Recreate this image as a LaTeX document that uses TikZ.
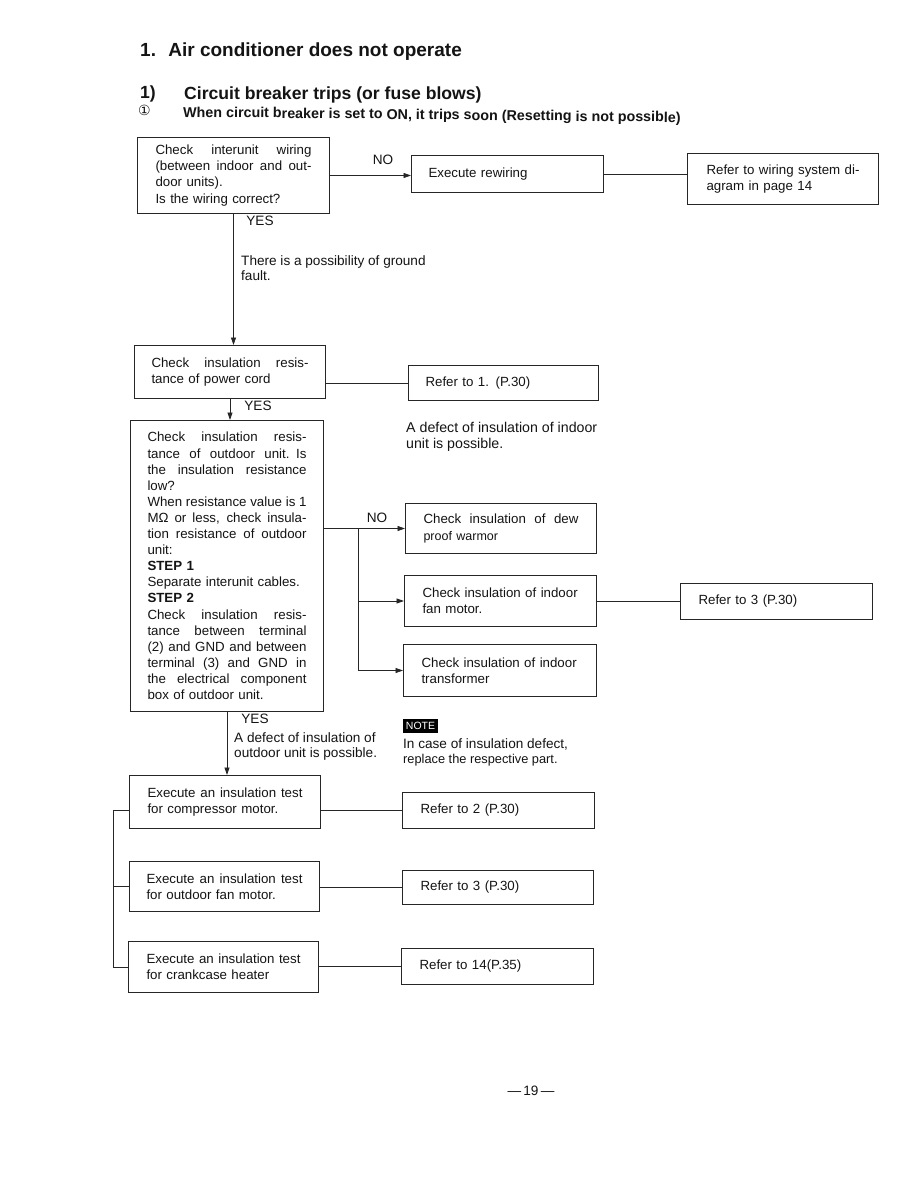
\documentclass[tikz,border=0pt]{standalone}
\usepackage{fontspec}
\setmainfont{Liberation Sans}
\newfontfamily\dejavu{DejaVu Sans}
\usetikzlibrary{arrows.meta}
\newcommand\myjw{150pt}
\newcommand\jl[1]{\leavevmode\hbox to \myjw{\spaceskip=0.28em plus 1fil\relax #1}}
\begin{document}
\begin{tikzpicture}[x=1pt,y=-1pt,
  every node/.style={text=black!92},
  box/.style={draw=black!85, line width=1pt, anchor=north west, inner ysep=0pt, align=left, font=\fontsize{13.3}{16.1}\selectfont},
  tw/.style={text width=#1, execute at begin node={\renewcommand\myjw{#1}}},
  lbl/.style={inner sep=0pt, font=\fontsize{13.6}{15.5}\selectfont, align=left},
  head/.style={anchor=base west, inner sep=0pt, font=\bfseries\fontsize{17.6}{18}\selectfont},
  conn/.style={draw=black!85, line width=0.85pt},
  arr/.style={conn, -{Triangle[length=7.5pt,width=5pt]}},
]
\fill[white] (0,0) rectangle (918,1188);
\useasboundingbox (0,0) rectangle (918,1188);

% headings
\node[anchor=base west, inner sep=0pt, font=\bfseries\fontsize{19}{20}\selectfont] (title) at (140,57) {1.~ Air conditioner does not operate};
\node[head] (s1n) at (140,99) {1)};
\node[head] (s1t) at (184,100) {Circuit breaker trips (or fuse blows)};
\node[anchor=base west, inner sep=0pt, font=\dejavu\fontsize{14}{14}\selectfont] (c1) at (138,116) {①};
\node[anchor=base west, inner sep=0pt, font=\bfseries\fontsize{14.3}{15}\selectfont, rotate=-0.6] (s2) at (183,117) {When circuit breaker is set to ON, it trips soon (Resetting is not possible)};

% boxes
\node[box, minimum width=192pt, minimum height=76pt, inner xsep=18pt, tw=156pt] (A) at (137,137)
  {\jl{Check interunit wiring}\\ \jl{(between indoor and out-}\\ door units).\\ Is the wiring correct?};
\node[box, minimum width=192pt, minimum height=37pt, inner xsep=17pt, tw=158pt] (rew) at (411,155) {Execute rewiring};
\node[box, minimum width=191pt, minimum height=51pt, inner xsep=19pt, tw=153pt] (wir) at (687,153)
  {Refer to wiring system di-\\agram in page 14};

\node[box, minimum width=191pt, minimum height=53pt, inner xsep=17pt, tw=157pt] (B) at (134,345)
  {\jl{Check insulation resis-}\\ tance of power cord};
\node[box, minimum width=190pt, minimum height=35pt, inner xsep=17pt, tw=156pt] (r1) at (408,365) {Refer to 1. (P.30)};

\node[box, minimum width=193pt, minimum height=291pt, inner xsep=17pt, tw=159pt] (C) at (130,420)
  {\jl{Check insulation resis-}\\
   \jl{tance of outdoor unit. Is}\\
   \jl{the insulation resistance}\\
   low?\\
   \jl{When resistance value is 1}\\
   \jl{MΩ or less, check insula-}\\
   \jl{tion resistance of outdoor}\\
   unit:\\
   \textbf{STEP 1}\\
   Separate interunit cables.\\
   \textbf{STEP 2}\\
   \jl{Check insulation resis-}\\
   \jl{tance between terminal}\\
   \jl{(2) and GND and between}\\
   \jl{terminal (3) and GND in}\\
   \jl{the electrical component}\\
   box of outdoor unit.};

\node[box, minimum width=191pt, minimum height=50pt, inner xsep=18pt, tw=155pt] (dew) at (405,503)
  {\jl{Check insulation of dew}\\ {\fontsize{12.5}{14}\selectfont proof warmor}};
\node[box, minimum width=192pt, minimum height=51pt, inner xsep=18pt, tw=156pt] (fan) at (404,575)
  {Check insulation of indoor\\ fan motor.};
\node[box, minimum width=192pt, minimum height=36pt, inner xsep=18pt, tw=156pt] (r3a) at (680,583) {Refer to 3 (P.30)};
\node[box, minimum width=193pt, minimum height=52pt, inner xsep=18pt, tw=157pt] (tr) at (403,644)
  {Check insulation of indoor\\ transformer};

\node[box, minimum width=191pt, minimum height=53pt, inner xsep=18pt, tw=155pt] (D) at (129,775)
  {\jl{Execute an insulation test}\\ for compressor motor.};
\node[box, minimum width=192pt, minimum height=36pt, inner xsep=18pt, tw=156pt] (r2) at (402,792) {Refer to 2 (P.30)};
\node[box, minimum width=190pt, minimum height=50pt, inner xsep=17pt, tw=156pt] (E) at (129,861)
  {\jl{Execute an insulation test}\\ for outdoor fan motor.};
\node[box, minimum width=191pt, minimum height=34pt, inner xsep=18pt, tw=155pt] (r3b) at (402,870) {Refer to 3 (P.30)};
\node[box, minimum width=190pt, minimum height=51pt, inner xsep=18pt, tw=154pt] (F) at (128,941)
  {\jl{Execute an insulation test}\\ for crankcase heater};
\node[box, minimum width=192pt, minimum height=36pt, inner xsep=18pt, tw=156pt] (r14) at (401,948) {Refer to 14(P.35)};

% free labels
\node[lbl] (no1) at (383,160) {NO};
\node[lbl] (yes1) at (260,221) {YES};
\node[lbl, anchor=north west] (gf) at (241,255) {There is a possibility of ground\\fault.};
\node[lbl] (yes2) at (258,406) {YES};
\node[lbl, anchor=north west, font=\fontsize{14.2}{16}\selectfont] (ind) at (406,422) {A defect of insulation of indoor\\unit is possible.};
\node[lbl] (no2) at (377,518) {NO};
\node[lbl] (yes3) at (255,719) {YES};
\node[lbl, anchor=north west] (outd) at (234,732) {A defect of insulation of\\outdoor unit is possible.};
\node[fill=black, text=white, inner sep=0pt, minimum width=35pt, minimum height=14pt, font=\fontsize{10.5}{11}\selectfont] (note) at (420.5,725.5) {NOTE};
\node[lbl, anchor=north west] (nt) at (403,738) {In case of insulation defect,\\{\fontsize{12.8}{14}\selectfont replace the respective part.}};
\node[lbl] (pg) at (531,1091) {—\,19\,—};

% connectors
\draw[arr] (A.east) -- (A.east -| rew.west);
\draw[conn] (rew.east) -- (rew.east -| wir.west);
\draw[arr] (A.south) -- (A.south |- B.north);
\draw[conn] (B.east |- r1.west) -- (r1.west);
\draw[arr] (B.south) -- (B.south |- C.north);
\draw[arr] (C.east |- dew.west) -- (dew.west);
\coordinate (j) at (358,528);
\draw[arr] (j) |- (fan.west);
\draw[arr] (j) |- (tr.west);
\draw[conn] (fan.east) -- (fan.east -| r3a.west);
\draw[arr] (C.south) -- (C.south |- D.north);
\draw[conn] (D.east |- r2.west) -- (r2.west);
\draw[conn] (E.east |- r3b.west) -- (r3b.west);
\draw[conn] (F.east |- r14.west) -- (r14.west);
\coordinate (t) at (113,808);
\draw[conn] (D.west |- r2.west) -- (t |- r2.west) -- (t |- F.west) -- (F.west);
\draw[conn] (E.west) -- (t |- E.west);
\end{tikzpicture}
\end{document}
